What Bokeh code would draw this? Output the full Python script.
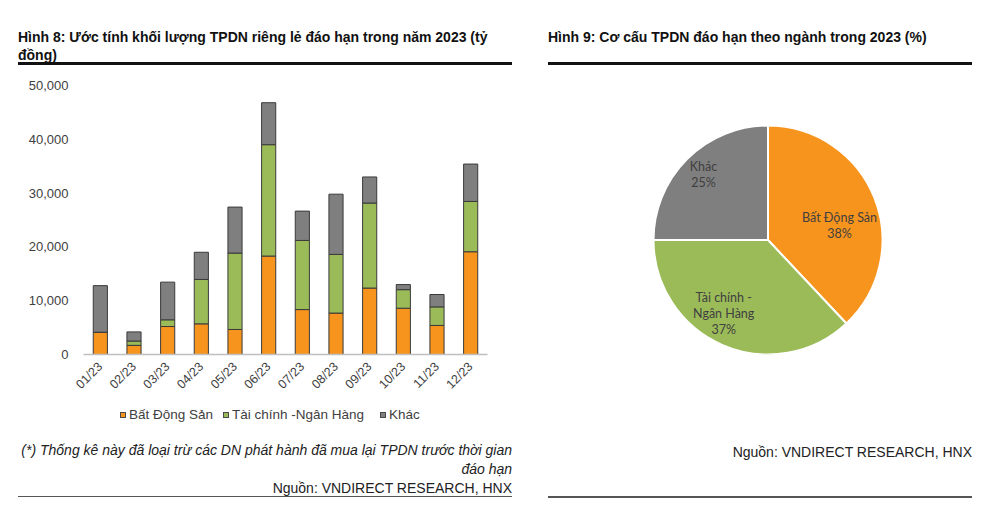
import math
from bokeh.plotting import figure
from bokeh.models import (FactorRange, Range1d, NumeralTickFormatter, SingleIntervalTicker,
                          ColumnDataSource, Div)
from bokeh.layouts import row, column
from bokeh.embed import file_html
from bokeh.resources import INLINE
from bokeh.core.properties import value

# ---------------- data ----------------
months = ["01/23", "02/23", "03/23", "04/23", "05/23", "06/23",
          "07/23", "08/23", "09/23", "10/23", "11/23", "12/23"]
bat_dong_san = [4150, 1700, 5200, 5700, 4650, 18300, 8350, 7700, 12350, 8600, 5400, 19100]
tai_chinh = [0, 800, 1250, 8250, 14200, 20700, 12850, 10900, 15800, 3450, 3450, 9350]
khac = [8650, 1700, 7000, 5050, 8550, 7800, 5450, 11200, 4850, 950, 2300, 6950]
series_names = ["Bất Động Sản", "Tài chính -Ngân Hàng", "Khác"]

pie_labels = ["Bất Động Sản", "Tài chính -\nNgân Hàng", "Khác"]
pie_values = [38, 37, 25]

title_left = "Hình 8: Ước tính khối lượng TPDN riêng lẻ đáo hạn trong năm 2023 (tỷ<br>đồng)"
title_right = "Hình 9: Cơ cấu TPDN đáo hạn theo ngành trong 2023 (%)"
note_left = "(*) Thống kê này đã loại trừ các DN phát hành đã mua lại TPDN trước thời gian<br>đáo hạn"
source_text = "Nguồn: VNDIRECT RESEARCH, HNX"

# ---------------- style ----------------
ORANGE = "#F7941D"
GREEN = "#9BBB59"
GRAY = "#7F7F7F"
colors = [ORANGE, GREEN, GRAY]
TXT = "#404040"
ARIAL = "Liberation Sans"

HEAD_H = 70
FIG_H = 330
FOOT_H = 107
TOP_B = 15
BOT_B = 46
LEFT_W = 528
RIGHT_W = 464

# ---------------- left: stacked bars ----------------
src = ColumnDataSource(dict(months=months, bds=bat_dong_san, tc=tai_chinh, kh=khac))

p = figure(x_range=FactorRange(factors=months, range_padding=0),
           y_range=Range1d(0, 50000),
           width=LEFT_W, height=FIG_H, output_backend="svg", toolbar_location=None,
           min_border_left=83, min_border_right=41, min_border_top=TOP_B, min_border_bottom=BOT_B)
p.outline_line_color = None
p.xgrid.visible = False
p.ygrid.visible = False

rs = p.vbar_stack(["bds", "tc", "kh"], x="months", width=0.42, color=colors,
                  line_color="#3a3a3a", line_width=1, source=src)

p.yaxis.ticker = SingleIntervalTicker(interval=10000)
p.yaxis.formatter = NumeralTickFormatter(format="0,0")
p.yaxis.axis_line_color = None
p.yaxis.major_tick_line_color = None
p.yaxis.minor_tick_line_color = None
p.yaxis.major_tick_out = 0
p.yaxis.major_label_standoff = 11
p.yaxis.major_label_text_font = ARIAL
p.yaxis.major_label_text_font_size = "13px"
p.yaxis.major_label_text_color = TXT

p.xaxis.axis_line_color = "#BFBFBF"
p.xaxis.axis_line_width = 1.5
p.xaxis.major_tick_line_color = None
p.xaxis.major_tick_out = 0
p.xaxis.major_label_orientation = math.pi / 4
p.xaxis.major_label_standoff = 10
p.xaxis.major_label_text_font = ARIAL
p.xaxis.major_label_text_font_size = "12.5px"
p.xaxis.major_label_text_color = TXT

# ---------------- right: pie ----------------
q = figure(x_range=Range1d(0, RIGHT_W), y_range=Range1d(0, 269), width=RIGHT_W, height=FIG_H,
           output_backend="svg", toolbar_location=None,
           min_border_left=0, min_border_right=0, min_border_top=TOP_B, min_border_bottom=BOT_B,
           x_axis_location=None, y_axis_location=None)
q.outline_line_color = None
q.xgrid.visible = False
q.ygrid.visible = False

cx, cy, R = 239.5, 114.5, 114.5
total = sum(pie_values)
starts, ends = [], []
cum = 0.0
for v in pie_values:
    starts.append(math.pi / 2 - 2 * math.pi * (cum + v) / total)
    ends.append(math.pi / 2 - 2 * math.pi * cum / total)
    cum += v
psrc = ColumnDataSource(dict(start=starts, end=ends, color=colors))
q.wedge(x=cx, y=cy, radius=R, start_angle="start", end_angle="end", color="color",
        line_color="white", line_width=2, source=psrc)

label_deg = [11.5, -121, 134.6]
label_r = [73, 86, 92]
tx = [cx + r * math.cos(math.radians(d)) for r, d in zip(label_r, label_deg)]
ty = [cy + r * math.sin(math.radians(d)) for r, d in zip(label_r, label_deg)]
texts = [f"{n}\n{v}%" for n, v in zip(pie_labels, pie_values)]
q.text(x=tx, y=ty, text=texts, text_align="center", text_baseline="middle",
       text_font=value("Lato"), text_font_size="12.5px", text_color=TXT, text_line_height=1.06)

# ---------------- header / footer blocks ----------------
FONT = "font-family:'Liberation Sans',Arial,sans-serif;"

def block(w, h, inner):
    return Div(text=f'<div style="position:relative;width:{w}px;height:{h}px;{FONT}color:#111;">{inner}</div>',
               width=w, height=h, margin=(0, 0, 0, 0))

legend_x = [120, 223, 380]
legend_html = ""
for lx, name, col in zip(legend_x, series_names, colors):
    legend_html += (f'<div style="position:absolute;left:{lx}px;top:12px;width:6px;height:6px;'
                    f'background:{col};border:1px solid #4a4a4a;"></div>'
                    f'<div style="position:absolute;left:{lx + 9}px;top:6px;font-size:13.5px;line-height:18px;'
                    f'white-space:nowrap;color:{TXT};">{name}</div>')

head_l = block(LEFT_W, HEAD_H,
               f'<div style="position:absolute;left:18px;top:28px;font-size:14px;font-weight:bold;line-height:18px;white-space:nowrap;">{title_left}</div>'
               '<div style="position:absolute;left:18px;top:62px;width:494px;height:2.5px;background:#111;"></div>')
foot_l = block(LEFT_W, FOOT_H,
               legend_html +
               f'<div style="position:absolute;right:16px;top:41px;text-align:right;line-height:18px;white-space:nowrap;color:#222;">'
               f'<span style="font-size:14px;font-style:italic;">{note_left}</span><br>'
               f'<span style="font-size:14px;">{source_text}</span></div>'
               '<div style="position:absolute;left:18px;top:95.5px;width:494px;height:1.5px;background:#555;"></div>')
head_r = block(RIGHT_W, HEAD_H,
               f'<div style="position:absolute;left:20px;top:28px;font-size:14px;font-weight:bold;line-height:18px;white-space:nowrap;">{title_right}</div>'
               '<div style="position:absolute;left:20px;top:62px;width:424px;height:2.5px;background:#111;"></div>')
foot_r = block(RIGHT_W, FOOT_H,
               f'<div style="position:absolute;right:20px;top:43px;text-align:right;line-height:18px;white-space:nowrap;font-size:14px;color:#222;">{source_text}</div>'
               '<div style="position:absolute;left:20px;top:96.3px;width:424px;height:1.5px;background:#555;"></div>')

layout = row(column(head_l, p, foot_l, spacing=0), column(head_r, q, foot_r, spacing=0), spacing=0)
open("out.html", "w").write(file_html(layout, INLINE))
